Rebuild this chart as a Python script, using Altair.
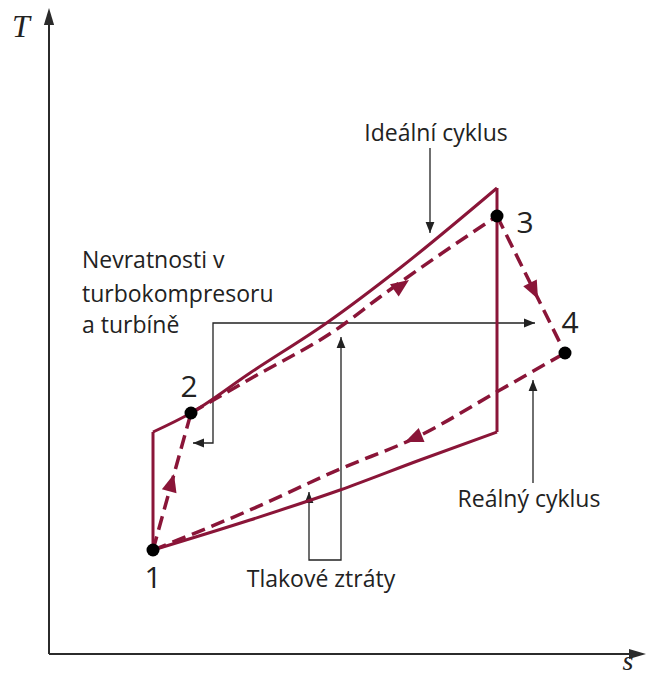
import math
import altair as alt
import pandas as pd

CYCLE = "#8a1538"
INK = "#222222"
AXIS = "#2b2b2b"
FONT = "Open Sans"

# ---- ideal cycle (solid), diagram units: entropy s, temperature T ----
ideal_12s_s = [10.4, 10.4]
ideal_12s_T = [10.4, 22.2]
ideal_2s3s_s = [10.4, 14.2, 20.1, 27.9, 35.1, 44.8]
ideal_2s3s_T = [22.2, 24.1, 28.1, 33.2, 38.6, 46.6]
ideal_3s4s_s = [44.8, 44.8]
ideal_3s4s_T = [46.6, 22.2]
ideal_4s1_s = [10.4, 20.1, 29.1, 37.1, 44.8]
ideal_4s1_T = [10.4, 13.4, 16.4, 19.4, 22.2]

# ---- real cycle (dashed) ----
real_12_s = [10.4, 14.2]
real_12_T = [10.4, 24.1]
real_23_s = [14.2, 20.1, 29.1, 33.1, 44.8]
real_23_T = [24.1, 27.5, 32.7, 35.7, 43.8]
real_34_s = [44.8, 51.6]
real_34_T = [43.8, 30.1]
real_41_s = [10.4, 20.1, 29.1, 36.8, 45.1, 51.6]
real_41_T = [10.4, 14.4, 18.5, 21.7, 26.4, 30.1]

# ---- state points ----
state_labels = ["1", "2", "3", "4"]
state_s = [10.4, 14.2, 44.8, 51.6]
state_T = [10.4, 24.1, 43.8, 30.1]
label_s = [10.4, 14.0, 47.6, 52.1]
label_T = [6.6, 25.7, 42.1, 32.1]

# ---- flow-direction arrowheads on the real cycle ----
flow_tip_s = [12.5, 36.0, 48.9, 35.6]
flow_tip_T = [18.0, 37.4, 35.5, 21.2]
flow_dir_ds = [3.8, 1.0, 6.8, -1.0]
flow_dir_dT = [13.7, 0.707, -13.7, -0.4156]

# ---- annotation texts ----
note_text = ["Ideální cyklus", "Nevratnosti v", "turbokompresoru", "a turbíně",
             "Reálný cyklus", "Tlakové ztráty"]
note_s = [38.7, 3.3, 3.3, 3.3, 48.0, 27.2]
note_T = [51.3, 38.6, 35.2, 32.1, 14.7, 6.7]
note_align = ["center", "left", "left", "left", "center", "center"]

# ---- annotation leader lines (black) ----
lead_ideal_s = [38.1, 38.1]
lead_ideal_T = [50.6, 42.1]
lead_nevrat_s = [14.4, 16.4, 16.4, 48.6]
lead_nevrat_T = [21.1, 21.1, 33.1, 33.1]
lead_tlak_s = [26.0, 26.0, 29.2, 29.2]
lead_tlak_T = [16.2, 9.4, 9.4, 31.7]
lead_real_s = [48.4, 48.4]
lead_real_T = [17.1, 27.4]
head_s = [38.1, 14.4, 48.6, 26.0, 29.2, 48.4]
head_T = [42.1, 21.1, 33.1, 16.2, 31.7, 27.4]
head_dir = [180, 270, 90, 0, 0, 0]

# ---- coordinate axes ----
axis_y_s = [0.0, 0.0]
axis_y_T = [0.0, 64.0]
axis_x_s = [0.0, 59.0]
axis_x_T = [0.0, 0.0]
axis_head_s = [0.0, 59.7]
axis_head_T = [64.6, 0.0]
axis_head_dir = [0, 90]

W, H = 639, 668
xs = alt.Scale(domain=[-4.1, 59.8], range=[0, W], nice=False, zero=False)
ys = alt.Scale(domain=[-2.2, 64.6], range=[H, 0], nice=False, zero=False)


def seg_df(segments):
    rows = []
    for name, sl, tl in segments:
        for i, (a, b) in enumerate(zip(sl, tl)):
            rows.append({"s": a, "T": b, "seg": name, "i": i})
    return pd.DataFrame(rows)


def enc(base):
    return base.encode(
        x=alt.X("s:Q", scale=xs, axis=None),
        y=alt.Y("T:Q", scale=ys, axis=None),
    )


def lines(df, interp, color, width, dash=None):
    kw = dict(interpolate=interp, color=color, strokeWidth=width, strokeCap="butt")
    if dash:
        kw["strokeDash"] = dash
    return enc(alt.Chart(df).mark_line(**kw)).encode(detail="seg:N", order="i:Q")


ideal_straight = seg_df([("a", ideal_12s_s, ideal_12s_T), ("b", ideal_3s4s_s, ideal_3s4s_T)])
ideal_curve = seg_df([("c", ideal_2s3s_s, ideal_2s3s_T), ("d", ideal_4s1_s, ideal_4s1_T)])
real_straight = seg_df([("a", real_12_s, real_12_T), ("b", real_34_s, real_34_T)])
real_curve = seg_df([("c", real_23_s, real_23_T), ("d", real_41_s, real_41_T)])
leads = seg_df([("a", lead_ideal_s, lead_ideal_T), ("b", lead_nevrat_s, lead_nevrat_T),
                ("c", lead_tlak_s, lead_tlak_T), ("d", lead_real_s, lead_real_T)])
axes = seg_df([("y", axis_y_s, axis_y_T), ("x", axis_x_s, axis_x_T)])

flow_angle = [math.degrees(math.atan2(a, b)) % 360 for a, b in zip(flow_dir_ds, flow_dir_dT)]
flow_df = pd.DataFrame({"s": flow_tip_s, "T": flow_tip_T, "a": flow_angle})
head_df = pd.DataFrame({"s": head_s, "T": head_T, "a": head_dir})
axis_head_df = pd.DataFrame({"s": axis_head_s, "T": axis_head_T, "a": axis_head_dir})
state_df = pd.DataFrame({"s": state_s, "T": state_T})
label_df = pd.DataFrame({"s": label_s, "T": label_T, "t": state_labels})
note_df = pd.DataFrame({"s": note_s, "T": note_T, "t": note_text, "al": note_align})


def heads(df, path, size, color):
    return enc(alt.Chart(df).mark_point(shape=path, size=size, filled=True, color=color,
                                        opacity=1, strokeWidth=0)).encode(
        angle=alt.Angle("a:Q", scale=None))


layers = [
    lines(axes, "linear", AXIS, 2),
    heads(axis_head_df, "M0,0L-0.3,1L0.3,1Z", 1156, AXIS),
    lines(leads, "linear", INK, 1.3),
    heads(head_df, "M0,0L-0.4,1L0.4,1Z", 484, INK),
    lines(ideal_straight, "linear", CYCLE, 3),
    lines(ideal_curve, "monotone", CYCLE, 3),
    lines(real_straight, "linear", CYCLE, 3.5, [14, 7]),
    lines(real_curve, "monotone", CYCLE, 3.5, [14, 7]),
    heads(flow_df, "M0,0L-0.42,1L0.42,1Z", 1296, CYCLE),
    enc(alt.Chart(state_df).mark_point(shape="circle", size=169, filled=True,
                                       color="black", opacity=1, strokeWidth=0)),
    enc(alt.Chart(label_df).mark_text(font=FONT, fontSize=30, color=INK, align="center",
                                      baseline="alphabetic")).encode(text="t:N"),
]
for al in ["center", "left"]:
    sub = note_df[note_df["al"] == al]
    layers.append(enc(alt.Chart(sub).mark_text(font=FONT, fontSize=23, color=INK, align=al,
                                               baseline="alphabetic")).encode(text="t:N"))

axis_title_df = pd.DataFrame({"s": [-2.8, 57.9], "T": [61.7, -1.6], "t": ["T", "s"],
                              "fs": [32, 28]})
for i in range(2):
    layers.append(enc(alt.Chart(axis_title_df.iloc[[i]]).mark_text(
        font="Liberation Serif", fontStyle="italic", fontSize=int(axis_title_df["fs"][i]),
        color=INK, align="center", baseline="alphabetic")).encode(text="t:N"))

chart = alt.layer(*layers).properties(
    width=W, height=H, autosize=alt.AutoSizeParams(type="none"), padding=0
).configure_view(stroke=None)

chart.save("out.html", embed_options={"renderer": "svg", "actions": False})
